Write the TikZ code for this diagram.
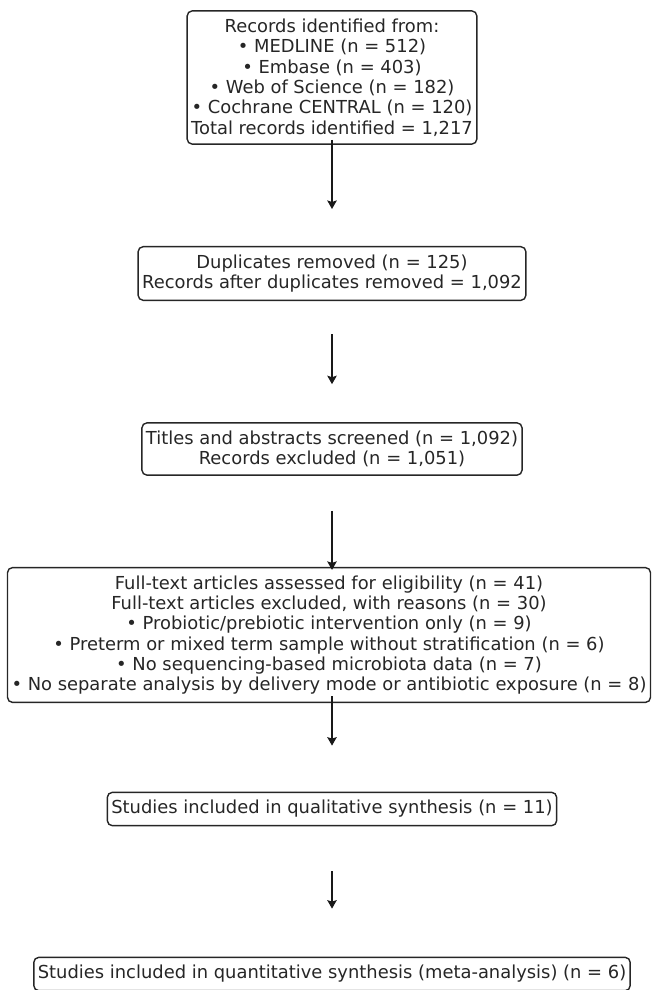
\documentclass[tikz,border=0pt]{standalone}
\usepackage{fontspec}
\setsansfont{DejaVu Sans}
\usetikzlibrary{arrows.meta}
\begin{document}
\begin{tikzpicture}[x=1pt, y=-1pt, font=\sffamily\fontsize{17.9}{20.3}\selectfont,
      >={Stealth[length=8.5pt, width=9.5pt, inset=1.5pt]},
      stage/.style={draw=black!85, line width=1.4pt, rounded corners=5pt, align=center, inner xsep=4pt, inner ysep=8pt, text=black!85},
      flow/.style={->, line width=1.4pt, black!90}]
    \useasboundingbox (0,0) rectangle (651,990);
    \node[stage] (ident) at (332,77.5) {Records identified from:\\%
      • MEDLINE (n = 512)\\• Embase (n = 403)\\• Web of Science (n = 182)\\%
      • Cochrane CENTRAL (n = 120)\\Total records identified = 1,217};
    \node[stage] (dup) at (332,273.5) {Duplicates removed (n = 125)\\Records after duplicates removed = 1,092};
    \node[stage] (screen) at (332,449) {Titles and abstracts screened (n = 1,092)\\Records excluded (n = 1,051)};
    \node[stage] (full) at (329,635) {Full-text articles assessed for eligibility (n = 41)\\%
      Full-text articles excluded, with reasons (n = 30)\\%
      • Probiotic/prebiotic intervention only (n = 9)\\%
      • Preterm or mixed term sample without stratification (n = 6)\\%
      • No sequencing-based microbiota data (n = 7)\\%
      • No separate analysis by delivery mode or antibiotic exposure (n = 8)};
    \node[stage] (qual) at (332,809) {Studies included in qualitative synthesis (n = 11)};
    \node[stage] (quant) at (332,974) {Studies included in quantitative synthesis (meta-analysis) (n = 6)};
    \draw[flow, shorten <=-5pt, shorten >=37pt] (ident.south) -- (dup.north);
    \draw[flow, shorten <=33pt, shorten >=38pt] (dup.south) -- (screen.north);
    \draw[flow, shorten <=35pt, shorten >=-3pt] (screen.south) -- (screen.south |- full.north);
    \draw[flow, shorten <=-7pt, shorten >=46pt] (qual.north |- full.south) -- (qual.north);
    \draw[flow, shorten <=45pt, shorten >=48pt] (qual.south) -- (quant.north);
  \end{tikzpicture}
\end{document}
